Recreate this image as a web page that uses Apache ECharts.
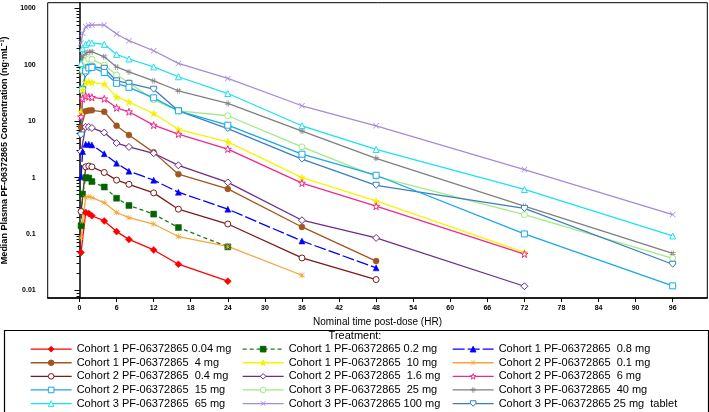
<!DOCTYPE html>
<html><head><meta charset="utf-8">
<script src="https://cdn.jsdelivr.net/npm/echarts@6/dist/echarts.min.js"></script>
<style>html,body{margin:0;padding:0;background:#fff}#c{width:709px;height:412px}</style>
</head><body><div id="c"></div>
<script>
// ---------- DATA ----------
const xTicks = [0,6,12,18,24,30,36,42,48,54,60,66,72,78,84,90,96];
const yTicks = [0.01,0.1,1,10,100,1000];

const nameC1_004 = 'Cohort 1 PF-06372865 0.04 mg';
const nameC1_02  = 'Cohort 1 PF-06372865 0.2 mg';
const nameC1_08  = 'Cohort 1 PF-06372865  0.8 mg';
const nameC1_4   = 'Cohort 1 PF-06372865  4 mg';
const nameC1_10  = 'Cohort 1 PF-06372865  10 mg';
const nameC2_01  = 'Cohort 2 PF-06372865  0.1 mg';
const nameC2_04  = 'Cohort 2 PF-06372865  0.4 mg';
const nameC2_16  = 'Cohort 2 PF-06372865  1.6 mg';
const nameC2_6   = 'Cohort 2 PF-06372865  6 mg';
const nameC2_15  = 'Cohort 2 PF-06372865  15 mg';
const nameC3_25  = 'Cohort 3 PF-06372865  25 mg';
const nameC3_40  = 'Cohort 3 PF-06372865  40 mg';
const nameC3_65  = 'Cohort 3 PF-06372865  65 mg';
const nameC3_100 = 'Cohort 3 PF-06372865 100 mg';
const nameC3_25t = 'Cohort 3 PF-06372865 25 mg  tablet';

// [nominal time (h), median concentration (ng/mL)]
const c1_004 = [[0.25,0.047],[1,0.24],[1.5,0.23],[2,0.21],[4,0.17],[6,0.11],[8,0.08],[12,0.052],[16,0.029],[24,0.0145]];
const c1_02  = [[0.25,0.14],[0.5,0.51],[1,1.0],[1.5,0.98],[2,0.85],[4,0.68],[6,0.43],[8,0.32],[12,0.225],[16,0.13],[24,0.059]];
const c1_08  = [[0.25,1.03],[0.5,2.9],[1,3.9],[1.5,3.9],[2,3.8],[4,2.65],[6,1.8],[8,1.3],[12,0.9],[16,0.55],[24,0.275],[36,0.075],[48,0.025]];
const c1_4   = [[0.25,7.8],[1,15.1],[1.5,15.5],[2,15.6],[4,14.7],[6,8.3],[8,5.7],[12,2.8],[16,1.15],[24,0.63],[36,0.133],[48,0.033]];
const c1_10  = [[0.25,14.7],[0.5,36],[1,49],[1.5,50],[2,49],[4,45.6],[6,27],[8,22],[12,13.7],[16,7.2],[24,4.3],[36,1.0],[48,0.385],[72,0.047]];
const c2_01  = [[0.25,0.085],[0.5,0.17],[1,0.44],[1.5,0.46],[2,0.44],[4,0.36],[6,0.24],[8,0.195],[12,0.15],[16,0.09],[24,0.06],[36,0.0185]];
const c2_04  = [[0.25,0.25],[1,1.55],[1.5,1.6],[2,1.55],[4,1.23],[6,0.9],[8,0.76],[12,0.535],[16,0.275],[24,0.15],[36,0.0375],[48,0.0155]];
const c2_16  = [[0.25,2.9],[1,7.9],[1.5,7.9],[2,7.6],[4,6.3],[6,4.1],[8,3.5],[12,2.7],[16,1.65],[24,0.82],[36,0.175],[48,0.085],[72,0.0118]];
const c2_6   = [[0.25,12],[0.5,25],[1,28],[1.5,27],[2,26.5],[4,25],[6,17.3],[8,14.7],[12,8.5],[16,5.9],[24,3.2],[36,0.8],[48,0.31],[72,0.044]];
const c2_15  = [[0.5,36],[1,78],[1.5,88],[2,90],[4,73],[6,47],[8,40],[12,26],[16,15.3],[24,8.5],[36,2.6],[48,1.1],[72,0.10],[96,0.012]];
const c3_25  = [[0.5,80],[1,115],[1.5,128],[2,125],[4,99],[6,66],[8,48],[12,24],[16,15.3],[24,12.5],[36,3.5],[48,1.05],[72,0.22],[96,0.037]];
const c3_40  = [[0.25,72],[0.5,139],[1,160],[1.5,170],[2,171],[4,139],[6,92],[8,75],[12,52],[16,34.7],[24,20.7],[36,6.7],[48,2.2],[72,0.31],[96,0.045]];
const c3_65  = [[0.25,106],[0.5,196],[1,231],[1.5,247],[2,245],[4,231],[6,153],[8,127],[12,92],[16,61.5],[24,31],[36,8.3],[48,3.15],[72,0.615],[96,0.092]];
const c3_100 = [[0.25,241],[0.5,363],[1,475],[1.5,500],[2,509],[4,509],[6,352],[8,268],[12,178],[16,106],[24,57.5],[36,18.8],[48,8.3],[72,1.39],[96,0.221]];
const c3_25t = [[0.25,5.7],[0.5,37],[1,70],[1.5,90],[2,92],[4,87],[6,52],[8,47],[12,37],[16,15.3],[24,7.4],[36,2.12],[48,0.73],[72,0.283],[96,0.029]];

// ---------- STYLE ----------
const STAR = 'path://M10,0L12.4,7.2L20,7.2L13.8,11.8L16.2,19L10,14.6L3.8,19L6.2,11.8L0,7.2L7.6,7.2Z';
const XMARK = 'path://M0,1.6L1.6,0L10,8.4L18.4,0L20,1.6L11.6,10L20,18.4L18.4,20L10,11.6L1.6,20L0,18.4L8.4,10Z';
const ASTER = 'path://M9,0H11V20H9Z M0,9H20V11H0Z M2.4,1L1,2.4L17.6,19L19,17.6Z M17.6,1L19,2.4L2.4,19L1,17.6Z';
const HASH = 'path://M6,0H8V20H6Z M12,0H14V20H12Z M0,6H20V8H0Z M0,12H20V14H0Z';
const SHIELD = 'path://M0,0H20V9L10,20L0,9Z';

function mk(name, data, color, symbol, size, mode, lineType, lineColor) {
  let itemStyle;
  if (mode === 'filled') itemStyle = {color: color, borderColor: color, borderWidth: 0.5};
  else if (mode === 'open') itemStyle = {color: '#ffffff', borderColor: color, borderWidth: 1};
  else itemStyle = {color: color, borderWidth: 0};
  return {
    name: name, type: 'line', data: data, symbol: symbol, symbolSize: size,
    showSymbol: true, animation: false, clip: false,
    lineStyle: {color: lineColor || color, width: 1.3, type: lineType || 'solid'},
    itemStyle: itemStyle,
    emphasis: {disabled: true}
  };
}

const series = [
  mk(nameC3_100, c3_100, '#a58ad8', XMARK, 6, 'mark'),
  mk(nameC3_65,  c3_65,  '#19e3ee', 'triangle', 6, 'open'),
  mk(nameC3_40,  c3_40,  '#7f7f7f', HASH, 6, 'mark'),
  mk(nameC3_25,  c3_25,  '#a2ea84', 'circle', 6, 'open'),
  mk(nameC3_25t, c3_25t, '#3d7ebd', SHIELD, 6, 'open'),
  mk(nameC2_15,  c2_15,  '#1aa8e6', 'rect', 6, 'open'),
  mk(nameC1_10,  c1_10,  '#f2f200', STAR, 7, 'filled', 'solid', '#f5f500'),
  mk(nameC2_6,   c2_6,   '#f0288c', STAR, 7, 'open'),
  mk(nameC1_4,   c1_4,   '#a0561e', 'circle', 6, 'filled'),
  mk(nameC2_16,  c2_16,  '#6c2c8c', 'diamond', 7, 'open'),
  mk(nameC1_08,  c1_08,  '#0000ff', 'triangle', 6, 'filled', [12,3]),
  mk(nameC2_04,  c2_04,  '#7b1a1a', 'circle', 6, 'open'),
  mk(nameC1_02,  c1_02,  '#006400', 'rect', 6, 'filled', [4,3], '#1a7a1a'),
  mk(nameC2_01,  c2_01,  '#f5a63a', ASTER, 6, 'mark'),
  mk(nameC1_004, c1_004, '#ff0000', 'diamond', 7, 'filled')
];

const col1 = [nameC1_004, nameC1_4, nameC2_04, nameC2_15, nameC3_65];
const col2 = [nameC1_02, nameC1_10, nameC2_16, nameC3_25, nameC3_100];
const col3 = [nameC1_08, nameC2_01, nameC2_6, nameC3_40, nameC3_25t];

const FONT = 'Liberation Sans, Arial, sans-serif';
function legendCol(data, left) {
  return {
    data: data, orient: 'vertical', left: left, top: 342.5, padding: 0,
    itemWidth: 41, itemHeight: 7, itemGap: 0.3, selectedMode: false,
    itemStyle: {borderWidth: 1},
    lineStyle: {width: 1.3},
    textStyle: {fontFamily: FONT, fontSize: 11, color: '#000', lineHeight: 13.3}
  };
}

const chart = echarts.init(document.getElementById('c'), null, {renderer: 'canvas'});
chart.setOption({
  backgroundColor: '#fff',
  animation: false,
  grid: {left: 47.7, right: 1.7, top: 2.7, bottom: 114, show: true, borderColor: '#000', borderWidth: 1,
         containLabel: false, outerBoundsMode: 'none'},
  xAxis: {
    type: 'value', min: -5.15, max: 101.6,
    name: 'Nominal time post-dose (HR)', nameLocation: 'middle', nameGap: 18,
    nameTextStyle: {fontFamily: FONT, fontSize: 10, color: '#000'},
    axisLine: {show: true, lineStyle: {color: '#000', width: 1.5}},
    axisTick: {show: true, customValues: xTicks, length: 4, lineStyle: {color: '#000', width: 1}},
    axisLabel: {customValues: xTicks, fontFamily: FONT, fontSize: 7, fontWeight: 'bold', color: '#000', margin: 7},
    splitLine: {show: false}
  },
  yAxis: {
    type: 'log', logBase: 10, min: 0.0073, max: 1267,
    name: 'Median Plasma PF-06372865 Concentration (ng·mL⁻¹)', nameLocation: 'middle', nameGap: 31,
    nameTextStyle: {fontFamily: FONT, fontSize: 9, fontWeight: 'bold', color: '#000'},
    axisLine: {show: true, lineStyle: {color: '#000', width: 1.5}},
    axisTick: {show: true, customValues: yTicks, length: 5, lineStyle: {color: '#000', width: 1}},
    minorTick: {show: true, splitNumber: 9, length: 3, lineStyle: {color: '#000', width: 1}},
    axisLabel: {customValues: yTicks, fontFamily: FONT, fontSize: 7, fontWeight: 'bold', color: '#000', margin: 12,
      formatter: function (v) { return String(v); }},
    splitLine: {show: false}, minorSplitLine: {show: false}
  },
  legend: [legendCol(col1, 30), legendCol(col2, 242), legendCol(col3, 452)],
  graphic: [
    {type: 'rect', left: 2, top: 328, shape: {width: 704, height: 82}, style: {fill: 'none', stroke: '#000', lineWidth: 1.2}, silent: true},
    {type: 'text', x: 355, y: 335.5, style: {text: 'Treatment:', fontFamily: FONT, fontSize: 11, fill: '#000', align: 'center', verticalAlign: 'middle'}, silent: true}
  ],
  series: series
});
</script></body></html>
